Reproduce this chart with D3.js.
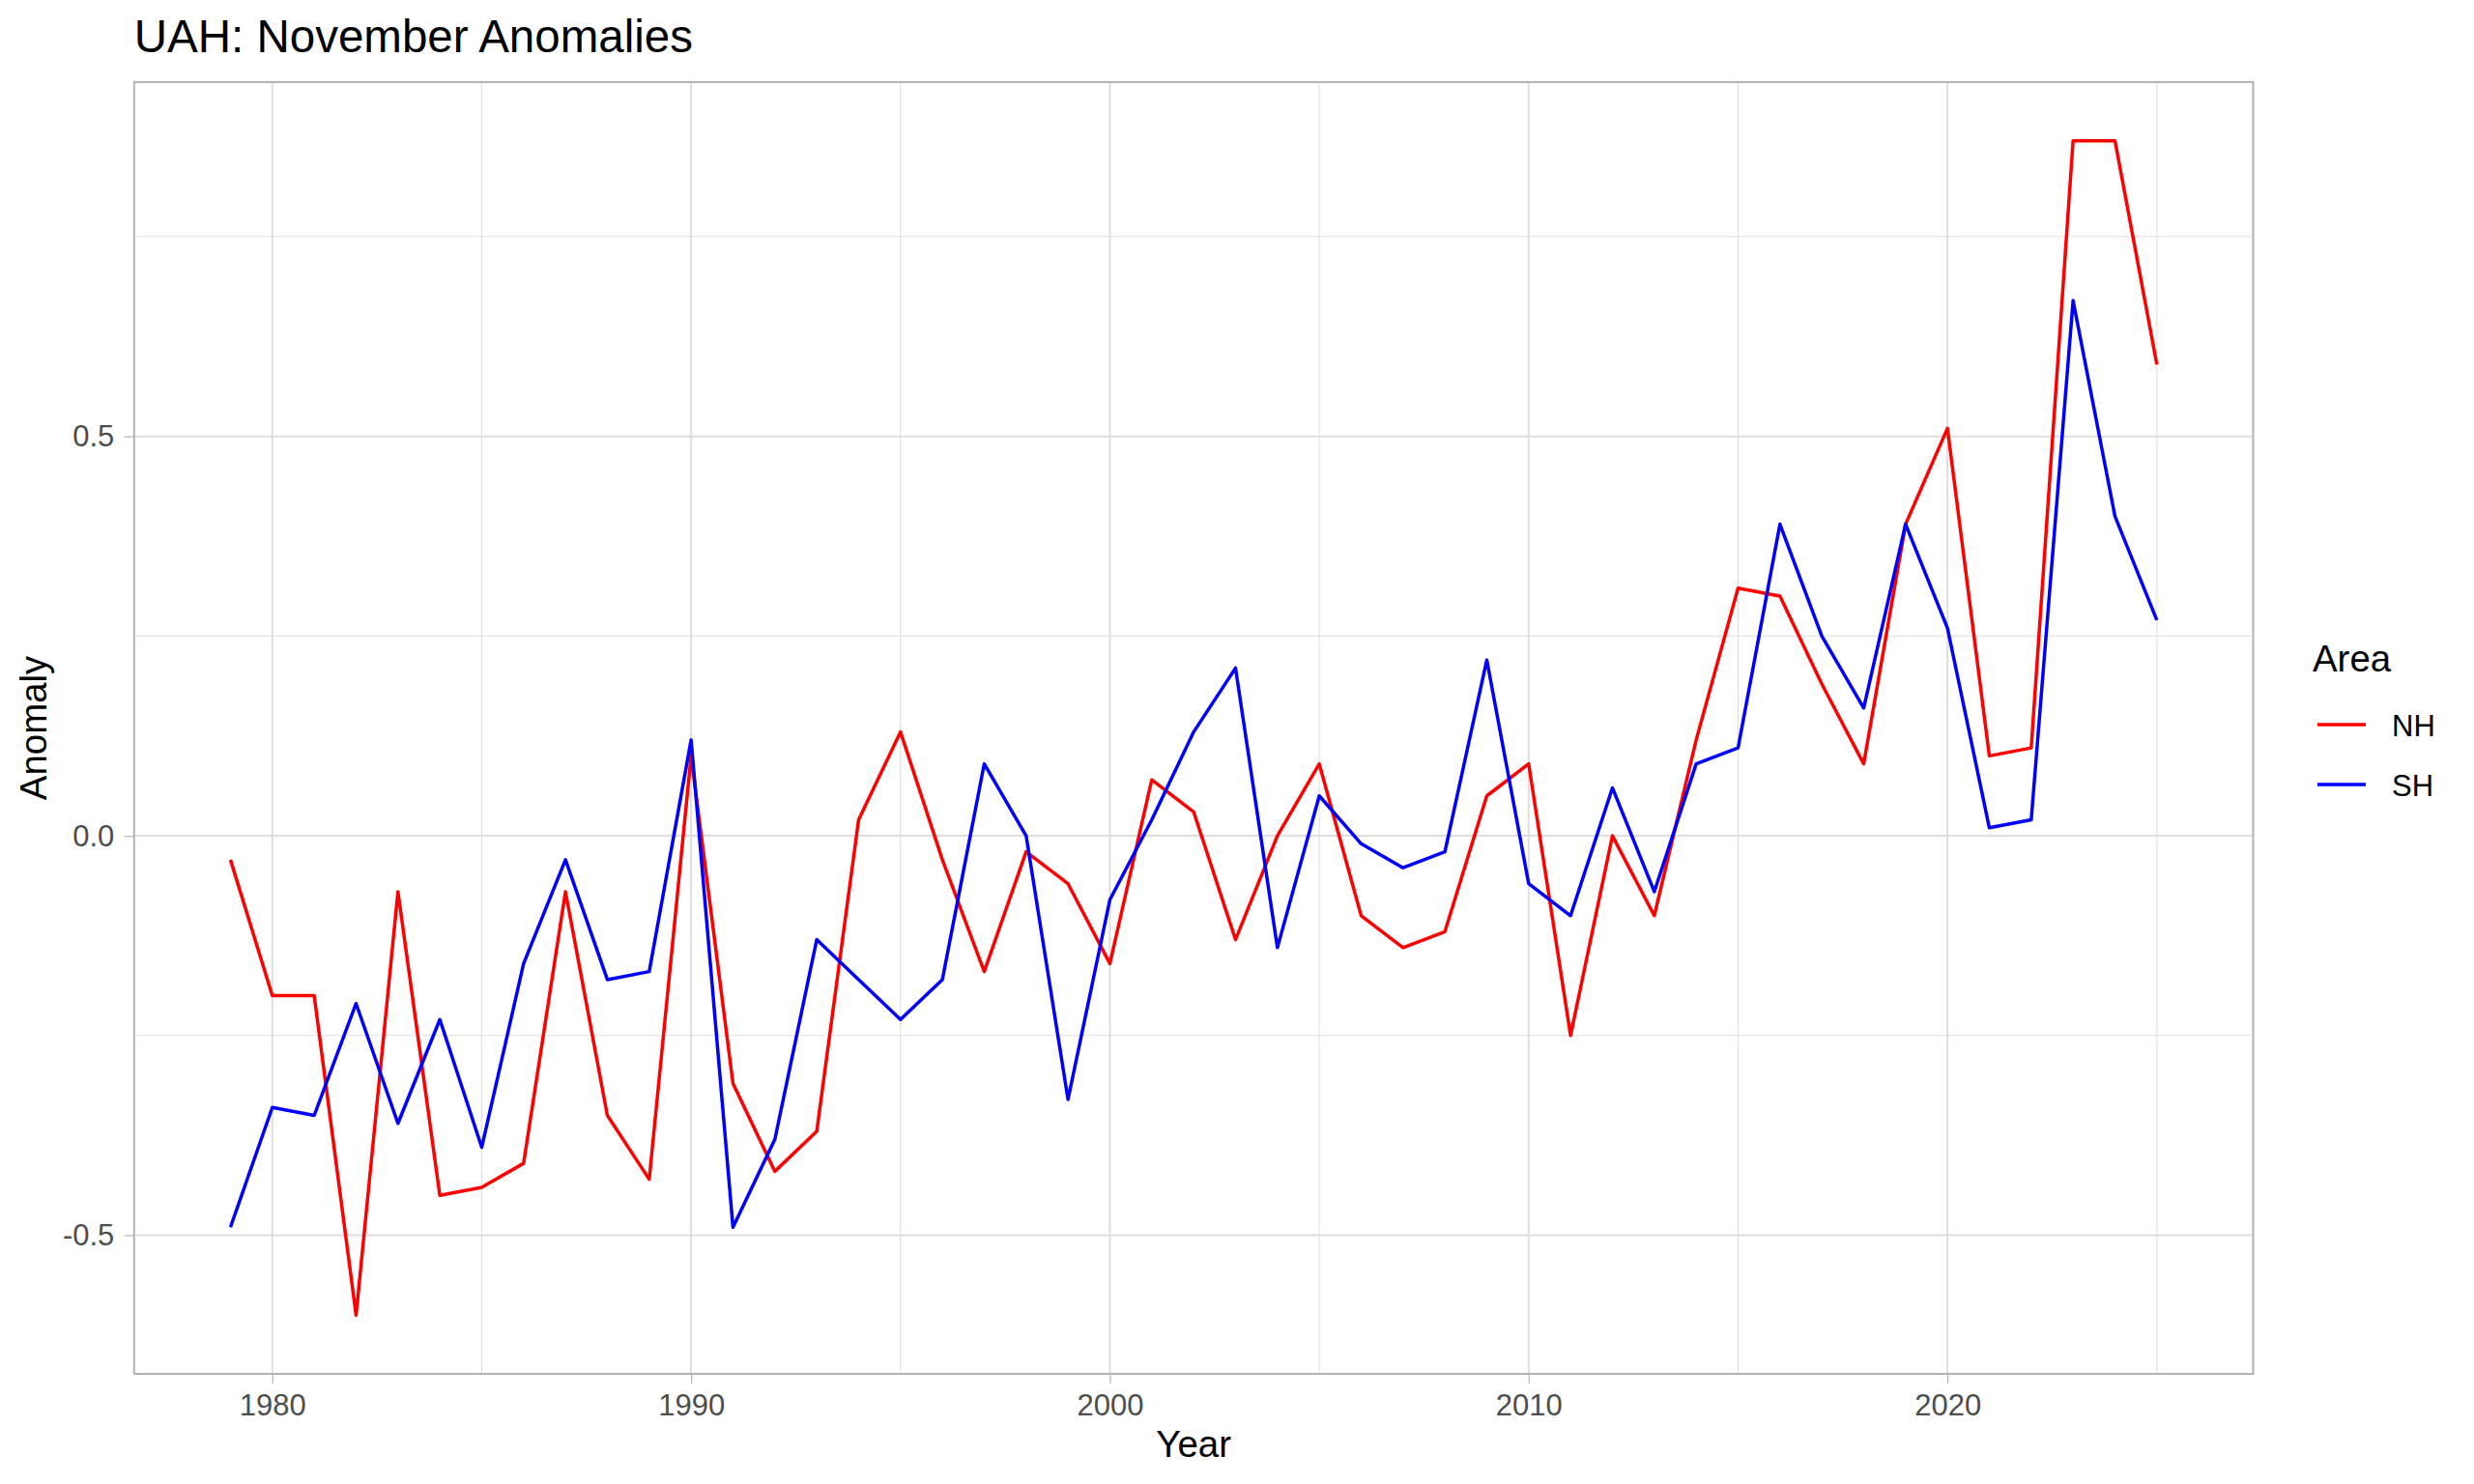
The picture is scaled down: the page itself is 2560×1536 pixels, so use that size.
<!DOCTYPE html>
<html>
<head>
<meta charset="utf-8">
<script src="https://cdn.jsdelivr.net/npm/d3@7"></script>
<style>
  html, body { margin: 0; padding: 0; background: #ffffff; }
  svg { display: block; }
  text { font-family: "Liberation Sans", Arial, Helvetica, sans-serif; }
</style>
</head>
<body>
<svg id="chart" width="2560" height="1536"></svg>
<script>
// ---- data ----
const years = [1979,1980,1981,1982,1983,1984,1985,1986,1987,1988,1989,1990,1991,1992,1993,1994,1995,1996,1997,1998,1999,2000,2001,2002,2003,2004,2005,2006,2007,2008,2009,2010,2011,2012,2013,2014,2015,2016,2017,2018,2019,2020,2021,2022,2023,2024,2025];
const nh = [-0.03,-0.20,-0.20,-0.60,-0.07,-0.45,-0.44,-0.41,-0.07,-0.35,-0.43,0.10,-0.31,-0.42,-0.37,0.02,0.13,-0.03,-0.17,-0.02,-0.06,-0.16,0.07,0.03,-0.13,0.00,0.09,-0.10,-0.14,-0.12,0.05,0.09,-0.25,0.00,-0.10,0.12,0.31,0.30,0.19,0.09,0.39,0.51,0.10,0.11,0.87,0.87,0.59];
const sh = [-0.49,-0.34,-0.35,-0.21,-0.36,-0.23,-0.39,-0.16,-0.03,-0.18,-0.17,0.12,-0.49,-0.38,-0.13,-0.18,-0.23,-0.18,0.09,0.00,-0.33,-0.08,0.02,0.13,0.21,-0.14,0.05,-0.01,-0.04,-0.02,0.22,-0.06,-0.10,0.06,-0.07,0.09,0.11,0.39,0.25,0.16,0.39,0.26,0.01,0.02,0.67,0.40,0.27];
const seriesNames = ["NH","SH"];
const seriesColors = ["#FF0000","#0000FF"];
const xMajorTicks = [1980,1990,2000,2010,2020];
const xMinorTicks = [1985,1995,2005,2015,2025];
const yMajorTicks = [-0.5,0.0,0.5];
const yMinorTicks = [-0.25,0.25,0.75];
const yTickLabels = ["-0.5","0.0","0.5"];
const titleText = "UAH: November Anomalies";
const xTitle = "Year";
const yTitle = "Anomaly";
const legendTitle = "Area";

// ---- layout ----
const panel = {left: 138.8, right: 2331.5, top: 84.9, bottom: 1422};
const svg = d3.select("#chart");

function expand(ext, m) {
  const d = ext[1] - ext[0];
  return [ext[0] - d * m, ext[1] + d * m];
}
const xDom = expand(d3.extent(years), 0.05);
const yDom = expand(d3.extent(nh.concat(sh)), 0.05);

const x = d3.scaleLinear().domain(xDom).range([panel.left, panel.right]);
const y = d3.scaleLinear().domain(yDom).range([panel.bottom, panel.top]);

const grid = svg.append("g");
// minor grid
grid.selectAll("line.xmin").data(xMinorTicks).enter().append("line")
  .attr("x1", d => x(d)).attr("x2", d => x(d))
  .attr("y1", panel.top).attr("y2", panel.bottom)
  .attr("stroke", "#DEDEDE").attr("stroke-width", 1);
grid.selectAll("line.ymin").data(yMinorTicks).enter().append("line")
  .attr("x1", panel.left).attr("x2", panel.right)
  .attr("y1", d => y(d)).attr("y2", d => y(d))
  .attr("stroke", "#DEDEDE").attr("stroke-width", 1);
// major grid
grid.selectAll("line.xmaj").data(xMajorTicks).enter().append("line")
  .attr("x1", d => x(d)).attr("x2", d => x(d))
  .attr("y1", panel.top).attr("y2", panel.bottom)
  .attr("stroke", "#DEDEDE").attr("stroke-width", 2);
grid.selectAll("line.ymaj").data(yMajorTicks).enter().append("line")
  .attr("x1", panel.left).attr("x2", panel.right)
  .attr("y1", d => y(d)).attr("y2", d => y(d))
  .attr("stroke", "#DEDEDE").attr("stroke-width", 2);

// lines
const lineGen = d3.line().x(d => x(d[0])).y(d => y(d[1]));
const allSeries = [nh, sh];
allSeries.forEach((vals, i) => {
  svg.append("path")
    .datum(years.map((yr, j) => [yr, vals[j]]))
    .attr("d", lineGen)
    .attr("fill", "none")
    .attr("stroke", seriesColors[i])
    .attr("stroke-width", 3.5)
    .attr("stroke-linejoin", "round")
    .attr("stroke-linecap", "butt");
});

// panel border
svg.append("rect")
  .attr("x", panel.left).attr("y", panel.top)
  .attr("width", panel.right - panel.left).attr("height", panel.bottom - panel.top)
  .attr("fill", "none").attr("stroke", "#B3B3B3").attr("stroke-width", 2);

// axes
const xAxis = d3.axisBottom(x).tickValues(xMajorTicks).tickFormat(d3.format("d"))
  .tickSize(10).tickSizeOuter(0).tickPadding(11);
const gx = svg.append("g").attr("transform", `translate(0,${panel.bottom})`).call(xAxis);
gx.select(".domain").remove();
gx.selectAll(".tick line").attr("stroke", "#B3B3B3").attr("stroke-width", 1.2);
gx.selectAll(".tick text").attr("fill", "#4D4D4D").attr("font-size", 31)
  .style("font-family", '"Liberation Sans", Arial, Helvetica, sans-serif');

const yAxis = d3.axisLeft(y).tickValues(yMajorTicks).tickFormat((d, i) => yTickLabels[i])
  .tickSize(10).tickSizeOuter(0).tickPadding(10.5);
const gy = svg.append("g").attr("transform", `translate(${panel.left},0)`).call(yAxis);
gy.select(".domain").remove();
gy.selectAll(".tick line").attr("stroke", "#B3B3B3").attr("stroke-width", 1.2);
gy.selectAll(".tick text").attr("fill", "#4D4D4D").attr("font-size", 31)
  .style("font-family", '"Liberation Sans", Arial, Helvetica, sans-serif');

// titles
svg.append("text").attr("x", panel.left).attr("y", 54)
  .attr("font-size", 47.5).attr("fill", "#000").text(titleText);
svg.append("text").attr("x", (panel.left + panel.right) / 2).attr("y", 1508)
  .attr("text-anchor", "middle").attr("font-size", 38.4).attr("fill", "#000").text(xTitle);
svg.append("text")
  .attr("transform", `translate(48,${(panel.top + panel.bottom) / 2}) rotate(-90)`)
  .attr("text-anchor", "middle").attr("font-size", 38.4).attr("fill", "#000").text(yTitle);

// legend
const lg = svg.append("g");
lg.append("text").attr("x", 2393).attr("y", 695).attr("font-size", 38.4).attr("fill", "#000").text(legendTitle);
const keyY = d3.scalePoint().domain(seriesNames).range([750, 812]);
seriesNames.forEach((nm, i) => {
  lg.append("line").attr("x1", 2398).attr("x2", 2448)
    .attr("y1", keyY(nm)).attr("y2", keyY(nm))
    .attr("stroke", seriesColors[i]).attr("stroke-width", 3.5);
  lg.append("text").attr("x", 2475).attr("y", keyY(nm) + 11.5)
    .attr("font-size", 31).attr("fill", "#000").text(nm);
});
</script>
</body>
</html>
